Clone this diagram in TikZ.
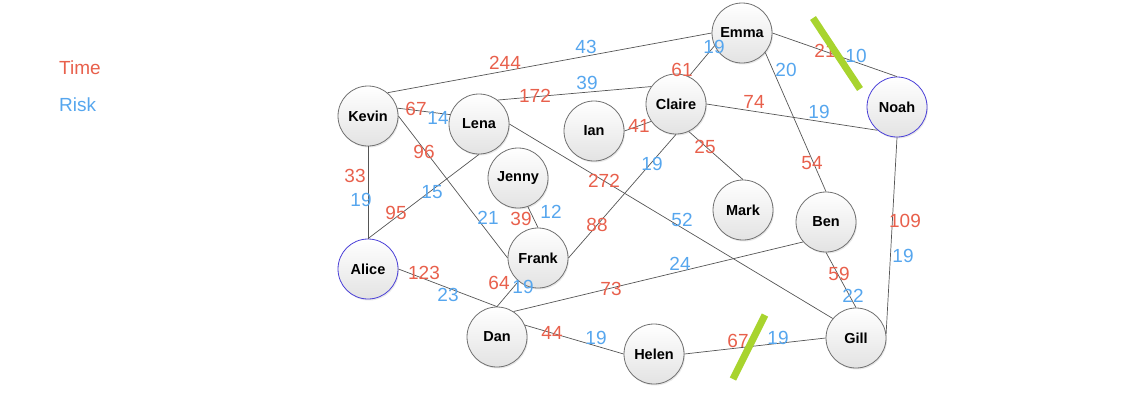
\documentclass[tikz,border=0pt]{standalone}
\usepackage{fontspec}
\setmainfont{Liberation Sans}
\usetikzlibrary{shadows}
\definecolor{tred}{HTML}{E8604C}
\definecolor{rblue}{HTML}{56A6EE}
\definecolor{edgegray}{HTML}{555555}
\definecolor{nodegray}{HTML}{707070}
\definecolor{startblue}{HTML}{4A3FD8}
\definecolor{cutgreen}{HTML}{A8D42E}
\tikzset{
  person/.style={circle, minimum size=60pt, inner sep=0pt, draw=nodegray, line width=0.8pt,
    top color=white, bottom color=black!11,
    drop shadow={opacity=0.18, shadow xshift=1pt, shadow yshift=-1.5pt},
    font=\fontsize{14.5}{16}\selectfont\bfseries},
  endpoint/.style={person, draw=startblue},
  link/.style={draw=edgegray, line width=0.7pt},
  tlab/.style={text=tred, inner sep=0pt, font=\fontsize{19}{22}\selectfont},
  rlab/.style={text=rblue, inner sep=0pt, font=\fontsize{19}{22}\selectfont},
  cut/.style={draw=cutgreen, line width=7pt},
}
\begin{document}
\begin{tikzpicture}[x=1pt, y=-1pt]
\useasboundingbox (0,0) rectangle (1147,400);
% legend
\node[tlab, anchor=west] (legtime) at (59,68) {Time};
\node[rlab, anchor=west] (legrisk) at (59,105) {Risk};
% people
\node[person] (emma) at (742,33) {Emma};
\node[endpoint] (noah) at (897,107) {Noah};
\node[person] (claire) at (676,104) {Claire};
\node[person] (kevin) at (368,116) {Kevin};
\node[person] (lena) at (479,124) {Lena};
\node[person] (ian) at (594,131) {Ian};
\node[person] (jenny) at (518,178) {Jenny};
\node[person] (frank) at (538,258) {Frank};
\node[endpoint] (alice) at (368,269) {Alice};
\node[person] (dan) at (497,337) {Dan};
\node[person] (mark) at (743,210) {Mark};
\node[person] (ben) at (826,222) {Ben};
\node[person] (gill) at (856,338) {Gill};
\node[person] (helen) at (654,354) {Helen};
% links
\draw[link] (kevin.50) -- (emma.west);
\draw[link] (kevin.15) -- (lena.162);
\draw[link] (kevin.south) -- (alice.north);
\draw[link] (kevin.east) -- (frank.west);
\draw[link] (lena.52) -- (claire.145);
\draw[link] (lena.south) -- (alice.north);
\draw[link] (lena.east) -- (gill.140);
\draw[link] (ian.east) -- (claire.215);
\draw[link] (claire.65) -- (emma.205);
\draw[link] (claire.east) -- (noah.230);
\draw[link] (claire.-65) -- (mark.north);
\draw[link] (claire.south) -- (frank.east);
\draw[link] (jenny.-71) -- (frank.north);
\draw[link] (emma.east) -- (noah.north);
\draw[link] (emma.-40) -- (ben.north);
\draw[link] (noah.south) -- (gill.8);
\draw[link] (alice.east) -- (dan.north);
\draw[link] (frank.230) -- (dan.north);
\draw[link] (dan.57) -- (ben.221);
\draw[link] (dan.23) -- (helen.west);
\draw[link] (helen.east) -- (gill.west);
\draw[link] (ben.south) -- (gill.north);
% labels
\node[tlab] (t1) at (505,63) {244};
\node[rlab] (r1) at (586,47) {43};
\node[tlab] (t2) at (416,109) {67};
\node[rlab] (r2) at (438,118) {14};
\node[tlab] (t3) at (355,176) {33};
\node[rlab] (r3) at (361,200) {19};
\node[tlab] (t4) at (424,152) {96};
\node[rlab] (r4) at (488,218) {21};
\node[tlab] (t5) at (535,96) {172};
\node[rlab] (r5) at (587,83) {39};
\node[tlab] (t6) at (396,213) {95};
\node[rlab] (r6) at (432,192) {15};
\node[tlab] (t7) at (604,181) {272};
\node[rlab] (r7) at (682,220) {52};
\node[tlab] (t8) at (639,126) {41};
\node[tlab] (t9) at (682,70) {61};
\node[rlab] (r9) at (714,47) {19};
\node[tlab] (t10) at (754,102) {74};
\node[rlab] (r10) at (819,112) {19};
\node[tlab] (t11) at (705,147) {25};
\node[rlab] (r12) at (652,164) {19};
\node[tlab] (t12) at (597,225) {88};
\node[tlab] (t13) at (521,219) {39};
\node[rlab] (r13) at (551,212) {12};
\node[tlab] (t14) at (825,51) {21};
\node[rlab] (r14) at (856,56) {10};
\node[rlab] (r15) at (786,70) {20};
\node[tlab] (t15) at (812,163) {54};
\node[tlab] (t16) at (905,221) {109};
\node[rlab] (r16) at (903,256) {19};
\node[tlab] (t17) at (424,273) {123};
\node[rlab] (r17) at (448,295) {23};
\node[tlab] (t18) at (499,283) {64};
\node[rlab] (r18) at (523,287) {19};
\node[tlab] (t19) at (611,289) {73};
\node[rlab] (r19) at (680,264) {24};
\node[tlab] (t20) at (552,333) {44};
\node[rlab] (r20) at (596,338) {19};
\node[tlab] (t21) at (738,341) {67};
\node[rlab] (r21) at (778,338) {19};
\node[tlab] (t22) at (839,274) {59};
\node[rlab] (r22) at (853,296) {22};
% cuts
\coordinate (cut1a) at (813,18);
\coordinate (cut1b) at (860,89);
\coordinate (cut2a) at (765,315);
\coordinate (cut2b) at (733,379);
\draw[cut] (cut1a) -- (cut1b);
\draw[cut] (cut2a) -- (cut2b);
\end{tikzpicture}
\end{document}
